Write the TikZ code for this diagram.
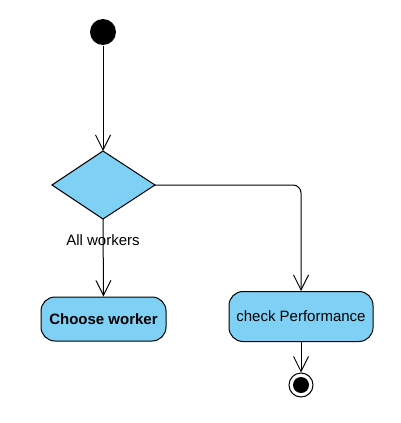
\documentclass[tikz,border=0pt]{standalone}
\usepackage{fontspec}
\setmainfont{Liberation Sans}
\usetikzlibrary{arrows.meta}
\definecolor{actfill}{RGB}{126,208,245}
\begin{document}
\begin{tikzpicture}[x=1pt,y=-1pt,line width=1pt,
  every node/.style={font=\fontsize{15}{17}\selectfont},
  flow/.style={draw=black,-{Straight Barb[length=15pt,width=15pt,line width=1pt]}},
  act/.style={draw=black,fill=actfill,rounded corners=14pt,inner sep=0pt}]
\useasboundingbox (0,0) rectangle (401,423);
\node[circle,fill=black,minimum size=26pt,inner sep=0pt] (start) at (103,32) {};
\coordinate (dtop) at (103,151);
\coordinate (dbot) at (103,219);
\coordinate (dright) at (155,185);
\coordinate (dleft) at (52,185);
\path[draw=black,fill=actfill] (dtop) -- (dright) -- (dbot) -- (dleft) -- cycle;
\node[act,minimum width=125pt,minimum height=44pt,font=\fontsize{15}{17}\selectfont\bfseries] (cw) at (103.5,319) {Choose worker};
\node[act,minimum width=144pt,minimum height=50pt] (cp) at (301,316.5) {check Performance};
\node[circle,draw=black,fill=white,minimum size=24pt,inner sep=0pt] (end) at (301,385) {};
\node[circle,fill=black,minimum size=16pt,inner sep=0pt] (endin) at (end) {};
\draw[flow] (start) -- (dtop);
\draw[flow] (dbot) -- (cw.north);
\draw[flow,rounded corners=8pt] (dright) -- (301,185) -- (cp.north);
\draw[flow] (cp.south) -- (end.north);
\node (lbl) at (103,240) {All workers};
\end{tikzpicture}
\end{document}
